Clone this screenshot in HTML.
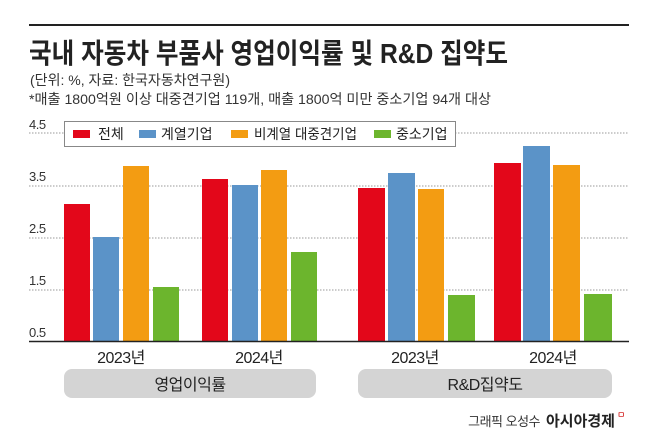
<!DOCTYPE html>
<html><head><meta charset="utf-8"><style>
body{margin:0;width:658px;height:439px;background:#fff;overflow:hidden;font-family:"Liberation Sans","Noto Sans CJK KR",sans-serif;}
</style></head><body>
<svg width="658" height="439" xmlns="http://www.w3.org/2000/svg" style="font-family:'Liberation Sans','Noto Sans CJK KR',sans-serif">
<line x1="29" y1="25" x2="629" y2="25" stroke="#222" stroke-width="2"/>
<text x="29" y="63" font-size="28" font-weight="bold" fill="#222" textLength="479" lengthAdjust="spacingAndGlyphs">국내 자동차 부품사 영업이익률 및 R&amp;D 집약도</text>
<text x="30" y="85" font-size="14" fill="#333" textLength="200" lengthAdjust="spacingAndGlyphs">(단위: %, 자료: 한국자동차연구원)</text>
<text x="29" y="104" font-size="14" fill="#333" textLength="462" lengthAdjust="spacingAndGlyphs">*매출 1800억원 이상 대중견기업 119개, 매출 1800억 미만 중소기업 94개 대상</text>
<g stroke="#999" stroke-dasharray="1.5,1.5" stroke-width="1">
<line x1="29" y1="133" x2="629" y2="133"/><line x1="29" y1="186" x2="629" y2="186"/><line x1="29" y1="238" x2="629" y2="238"/><line x1="29" y1="290" x2="629" y2="290"/>
</g>
<g font-size="13" fill="#333" letter-spacing="-0.5">
<text x="29" y="129">4.5</text><text x="29" y="181">3.5</text><text x="29" y="233">2.5</text><text x="29" y="285">1.5</text><text x="29" y="337">0.5</text>
</g>
<g>
<rect x="64" y="204" width="26" height="137" fill="#e3071a"/><rect x="93" y="237" width="26" height="104" fill="#5b93c8"/><rect x="123" y="166" width="26" height="175" fill="#f39c12"/><rect x="153" y="287" width="26" height="54" fill="#6cb52d"/>
<rect x="202" y="179" width="26" height="162" fill="#e3071a"/><rect x="232" y="185" width="26" height="156" fill="#5b93c8"/><rect x="261" y="170" width="26" height="171" fill="#f39c12"/><rect x="291" y="252" width="26" height="89" fill="#6cb52d"/>
<rect x="358" y="188" width="27" height="153" fill="#e3071a"/><rect x="388" y="173" width="27" height="168" fill="#5b93c8"/><rect x="418" y="189" width="26" height="152" fill="#f39c12"/><rect x="448" y="295" width="27" height="46" fill="#6cb52d"/>
<rect x="494" y="163" width="27" height="178" fill="#e3071a"/><rect x="523" y="146" width="27" height="195" fill="#5b93c8"/><rect x="553" y="165" width="27" height="176" fill="#f39c12"/><rect x="584" y="294" width="28" height="47" fill="#6cb52d"/>
</g>
<line x1="29" y1="341.5" x2="629" y2="341.5" stroke="#222" stroke-width="1.5"/>
<rect x="64.5" y="121.5" width="391" height="25" fill="#fff" stroke="#888" stroke-width="1"/>
<g font-size="14" fill="#222">
<rect x="73" y="130" width="17" height="8" fill="#e3071a"/><text x="98" y="139">전체</text>
<rect x="139" y="130" width="17" height="8" fill="#5b93c8"/><text x="161" y="139">계열기업</text>
<rect x="231" y="130" width="17" height="8" fill="#f39c12"/><text x="254" y="139" textLength="103" lengthAdjust="spacingAndGlyphs">비계열 대중견기업</text>
<rect x="374" y="130" width="17" height="8" fill="#6cb52d"/><text x="396" y="139">중소기업</text>
</g>
<g font-size="16" fill="#222" text-anchor="middle" letter-spacing="-0.5">
<text x="121" y="363">2023년</text><text x="259" y="363">2024년</text><text x="415" y="363">2023년</text><text x="553" y="363">2024년</text>
</g>
<rect x="64" y="369" width="252" height="29" rx="8" fill="#d4d4d4"/>
<rect x="358" y="369" width="254" height="29" rx="8" fill="#d4d4d4"/>
<g font-size="16" fill="#222" text-anchor="middle" letter-spacing="-0.5">
<text x="190" y="390">영업이익률</text><text x="485" y="390">R&amp;D집약도</text>
</g>
<text x="540" y="426" font-size="13" fill="#333" text-anchor="end" letter-spacing="-0.5">그래픽 오성수</text>
<text x="615" y="426" font-size="15" font-weight="bold" fill="#222" text-anchor="end">아시아경제</text>
<text x="617" y="418" font-size="9" fill="#c00">ㅁ</text>
</svg>
</body></html>
